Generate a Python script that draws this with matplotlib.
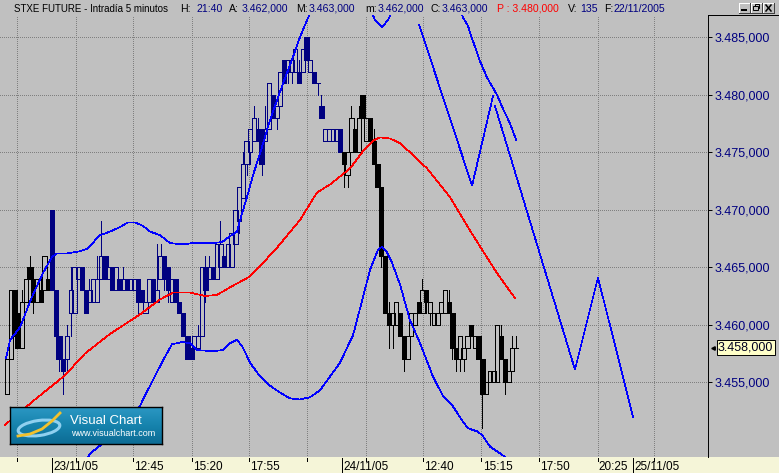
import numpy as np
import matplotlib
matplotlib.use("Agg")
import matplotlib.pyplot as plt
from matplotlib.patches import Rectangle, Ellipse
from matplotlib.colors import LinearSegmentedColormap
from matplotlib.transforms import blended_transform_factory as blend

# 10-minute candles; x is counted in 5-minute slots from the 23/11/05 open
first_bar, bar_step = -24, 2
opens = [3454, 3457, 3463, 3461, 3458, 3462, 3465, 3464, 3462, 3463, 3463, 3464,
         3470, 3463, 3459, 3457, 3457, 3461, 3461, 3464, 3465, 3463, 3462, 3462,
         3462, 3464, 3466, 3464, 3465, 3463, 3464, 3463, 3464, 3463, 3463, 3464,
         3463, 3461, 3462, 3464, 3462, 3464, 3466, 3465, 3462, 3464, 3462, 3461,
         3459, 3458, 3458, 3458, 3459, 3465, 3464, 3465, 3464, 3465, 3466, 3465,
         3465, 3467, 3469, 3471, 3474, 3475, 3476, 3477, 3477, 3476, 3477, 3480,
         3478, 3479, 3483, 3482, 3482, 3482, 3482, 3482, 3485, 3482, 3482, 3481,
         3479, 3476, 3476, 3476, 3476, 3477, 3475, 3473, 3475, 3477, 3475, 3480,
         3476, 3478, 3476, 3474, 3472, 3466, 3461, 3460, 3460, 3461, 3459, 3457,
         3459, 3460, 3462, 3461, 3463, 3461, 3460, 3460, 3461, 3461, 3462, 3461,
         3458, 3457, 3457, 3458, 3460, 3458, 3459, 3457, 3454, 3455, 3455, 3455,
         3459, 3457, 3455, 3456, 3458]
highs = [3457, 3463, 3463, 3461, 3463, 3464, 3466, 3465, 3464, 3464, 3466, 3464,
         3470, 3463, 3459, 3457, 3460, 3465, 3465, 3465, 3465, 3463, 3464, 3464,
         3466, 3469, 3466, 3466, 3465, 3465, 3464, 3465, 3464, 3464, 3464, 3464,
         3463, 3462, 3464, 3464, 3467, 3467, 3466, 3465, 3464, 3464, 3462, 3461,
         3459, 3459, 3459, 3460, 3465, 3466, 3466, 3465, 3467, 3469, 3466, 3467,
         3468, 3470, 3472, 3475, 3476, 3477, 3479, 3478, 3477, 3479, 3481, 3480,
         3479, 3482, 3483, 3483, 3483, 3484, 3483, 3484, 3485, 3483, 3482, 3481,
         3480, 3477, 3477, 3477, 3477, 3477, 3475, 3475, 3479, 3477, 3479, 3480,
         3478, 3478, 3477, 3474, 3472, 3466, 3462, 3461, 3462, 3461, 3459, 3459,
         3461, 3461, 3462, 3464, 3463, 3462, 3461, 3461, 3462, 3463, 3463, 3461,
         3458, 3459, 3458, 3459, 3460, 3459, 3459, 3457, 3455, 3456, 3456, 3460,
         3460, 3457, 3456, 3459, 3459]
lows = [3454, 3457, 3458, 3458, 3458, 3462, 3464, 3461, 3462, 3462, 3463, 3463,
        3463, 3457, 3456, 3454, 3456, 3459, 3461, 3464, 3463, 3461, 3462, 3462,
        3462, 3464, 3464, 3464, 3463, 3463, 3463, 3463, 3463, 3463, 3463, 3461,
        3462, 3461, 3462, 3462, 3462, 3464, 3463, 3462, 3462, 3462, 3461, 3459,
        3457, 3457, 3457, 3458, 3459, 3462, 3464, 3464, 3464, 3465, 3465, 3465,
        3465, 3467, 3468, 3471, 3473, 3474, 3476, 3476, 3473, 3476, 3477, 3478,
        3477, 3479, 3481, 3481, 3481, 3482, 3481, 3482, 3483, 3482, 3481, 3480,
        3478, 3476, 3476, 3476, 3476, 3475, 3472, 3472, 3475, 3475, 3475, 3478,
        3476, 3476, 3474, 3472, 3465, 3461, 3458, 3458, 3460, 3459, 3456, 3457,
        3459, 3460, 3461, 3461, 3461, 3460, 3460, 3460, 3461, 3461, 3461, 3457,
        3456, 3456, 3456, 3458, 3459, 3458, 3457, 3451, 3454, 3455, 3455, 3455,
        3457, 3454, 3455, 3456, 3458]
closes = [3457, 3463, 3459, 3458, 3462, 3464, 3464, 3462, 3464, 3462, 3466, 3463,
          3463, 3459, 3457, 3456, 3459, 3463, 3465, 3465, 3463, 3461, 3463, 3464,
          3464, 3466, 3464, 3465, 3463, 3465, 3463, 3464, 3463, 3464, 3464, 3462,
          3462, 3462, 3464, 3462, 3463, 3466, 3464, 3463, 3464, 3462, 3461, 3459,
          3457, 3457, 3459, 3459, 3465, 3463, 3465, 3464, 3467, 3467, 3465, 3467,
          3468, 3470, 3472, 3474, 3476, 3477, 3478, 3476, 3474, 3477, 3481, 3478,
          3479, 3482, 3481, 3483, 3483, 3484, 3481, 3484, 3483, 3483, 3481, 3481,
          3478, 3477, 3477, 3477, 3477, 3475, 3474, 3475, 3478, 3475, 3478, 3478,
          3478, 3476, 3474, 3472, 3466, 3461, 3460, 3461, 3462, 3459, 3457, 3459,
          3461, 3461, 3461, 3463, 3462, 3462, 3461, 3461, 3462, 3463, 3461, 3458,
          3457, 3459, 3458, 3459, 3459, 3459, 3457, 3454, 3455, 3456, 3456, 3460,
          3457, 3455, 3456, 3458, 3458]

# moving average (red)
ma_t = [-25.1, -9.1, 6.9, 17.6, 31.0, 47.0, 57.7, 64.7, 73.8, 81.8, 88.2, 96.7,
        105.8, 119.2, 132.5, 141.6, 148.6, 159.3, 166.2, 171.6, 175.3, 180.6,
        186.0, 191.3, 200.4, 212.7, 223.4, 228.8, 237.8, 247.5]
ma_p = [3451.3, 3453.5, 3455.6, 3457.5, 3459.2, 3460.9, 3462.2, 3462.8, 3462.8,
        3462.5, 3462.6, 3463.4, 3464.2, 3466.5, 3469.1, 3471.5, 3472.2, 3473.6,
        3475.1, 3476.0, 3476.3, 3476.2, 3475.8, 3475.0, 3473.6, 3471.1, 3468.2,
        3466.8, 3464.5, 3462.3]

# bands (blue), nan where the band leaves the chart
nan = float("nan")
upper_t = [-24.6, -22.4, -19.8, -17.1, -14.4, -11.8, -9.1, -4.8, -2.1, 0, 2.7, 8.0,
           15.0, 18.7, 25.7, 31.0, 36.3, 40.6, 44.4, 48.6, 52.4, 57.7, 63.1, 69.5,
           75.4, 86.1, 90.9, 95.1, 98.9, 100.5, 104.2, 107.4, 111.2, 116.5, 123.5,
           128.8, 132.5, 136.3, 139.0, nan, 170.0, 172.6, 176.4, 179.6, 182.3, nan,
           218.0, 219.7, 222.3, 224.5, 228.8, 232.5, 237.8, 241.0, 244.8, 248.0]
upper_p = [3457.1, 3458.7, 3459.2, 3459.8, 3460.9, 3462.0, 3463.0, 3464.5, 3465.3,
           3465.9, 3466.2, 3466.2, 3466.4, 3466.6, 3467.8, 3468.1, 3468.5, 3468.9,
           3468.9, 3468.6, 3468.1, 3467.8, 3467.1, 3467.0, 3467.1, 3467.1, 3467.2,
           3467.7, 3468.1, 3469.1, 3471.1, 3473.0, 3474.9, 3477.8, 3481.0, 3483.3,
           3485.0, 3486.5, 3487.5, nan, 3487.5, 3486.5, 3485.9, 3486.5, 3487.5, nan,
           3487.5, 3486.7, 3486.0, 3484.9, 3482.9, 3481.5, 3480.0, 3478.8, 3477.5,
           3476.1]
lower_t = [17.1, 20.3, 25.7, 36.3, 47.0, 48.6, 54.0, 59.3, 64.1, 69.5, 73.8, 77.5,
           86.1, 91.4, 95.1, 98.9, 102.1, 105.8, 111.2, 116.5, 121.9, 127.2, 132.5,
           137.9, 143.2, 148.6, 153.9, 160.9, 166.2, 170.0, 174.2, 176.4, 179.0,
           181.7, 186.0, 191.3, 196.7, 203.6, 209.0, 214.3, 219.1, 222.3, 227.7,
           230.4, 234.1, 240.5, 248.0]
lower_p = [3447.8, 3448.8, 3449.5, 3451.3, 3452.9, 3453.5, 3455.2, 3456.9, 3458.3,
           3458.5, 3458.4, 3457.8, 3457.7, 3457.8, 3458.4, 3458.7, 3458.0, 3456.7,
           3455.5, 3454.7, 3454.1, 3453.6, 3453.5, 3453.7, 3454.3, 3455.5, 3456.7,
           3459.1, 3462.4, 3464.8, 3466.5, 3466.8, 3466.3, 3465.4, 3463.5, 3460.4,
           3458.4, 3455.5, 3453.8, 3452.9, 3451.7, 3451.0, 3450.7, 3450.3, 3449.4,
           3448.7, 3447.7]

# projection zigzags (blue)
proj_a_t = [196.2, 224.5, 235.7]
proj_a_p = [3486.1, 3472.1, 3479.9]
proj_b_t = [236.8, 279.5, 291.8, 310.5]
proj_b_p = [3479.0, 3456.1, 3464.1, 3452.0]

grid_t = [-18.7, 12.6, 43.4, 74.6, 105.4, 136.3, 167.8, 198.4, 229.5, 260.4, 291.6, 321.8]
time_t = [43.4, 74.6, 105.4, 198.4, 229.5, 260.4, 291.6]
time_labels = ["12:45", "15:20", "17:55", "12:40", "15:15", "17:50", "20:25"]
date_t = [0, 155, 310.5]
date_labels = ["23/11/05", "24/11/05", "25/11/05"]
price_ticks = [3455, 3460, 3465, 3470, 3475, 3480, 3485]
last_price = 3458

W, H = 779, 473
GREY, NAVY, STRIP = "#C0C0C0", "#000080", "#F5F5D8"
LW = 0.7
plt.rcParams["font.family"] = ["Liberation Sans", "DejaVu Sans"]


def fmt(v):
    return f"{v:,.3f}".replace(",", " ").replace(".", ",").replace(" ", ".")


fig = plt.figure(figsize=(W / 100, H / 100), dpi=100, facecolor=GREY)
fig.add_artist(Rectangle((0, 0), 1, 16 / H, transform=fig.transFigure,
                         facecolor=STRIP, edgecolor="none", zorder=-1))

ax = fig.add_axes([0, 16 / H, 708 / W, 442 / H])
ax.set_facecolor(GREY)
ax.set_xlim(-27.8, 350.6)
ax.set_ylim(3448.5, 3486.94)
for s in ["left", "top", "bottom"]:
    ax.spines[s].set_visible(False)
ax.spines["right"].set_linewidth(LW)
ax.set_xticks([])
ax.yaxis.tick_right()
ax.set_yticks(price_ticks)
ax.set_yticklabels([fmt(v) for v in price_ticks])
ax.tick_params(axis="y", length=3, width=LW, pad=1.5, labelsize=9, labelcolor=NAVY)

dots = (0, (1, 2))
ax.hlines(price_ticks, -27.8, 350.6, colors="#808080", linestyles=dots, lw=LW,
          antialiased=False, zorder=0.5)
ax.vlines(grid_t, 3448.5, 3486.94, colors="#808080", linestyles=dots, lw=LW,
          antialiased=False, zorder=0.5)

# candles
w, CW = 2.3, 0.7
for i, (o, h, l, c) in enumerate(zip(opens, highs, lows, closes)):
    t = first_bar + bar_step * i
    col = NAVY if 0 <= t < 155 else "black"
    lo, hi = min(o, c), max(o, c)
    if h > hi:
        ax.vlines(t, hi, h, colors=col, lw=CW, antialiased=False, zorder=3)
    if l < lo:
        ax.vlines(t, l, lo, colors=col, lw=CW, antialiased=False, zorder=3)
    if o == c:
        ax.hlines(c, t - w / 2, t + w / 2, colors=col, lw=CW, antialiased=False, zorder=3)
    else:
        ax.add_patch(Rectangle((t - w / 2, lo), w, hi - lo, facecolor=col if c < o else "none",
                               edgecolor=col, lw=CW, antialiased=False, zorder=3))

IND = 0.5
ax.plot(ma_t, ma_p, color="#FF0000", lw=IND, antialiased=False, zorder=4)
ax.plot(upper_t, upper_p, color="#0000FF", lw=IND, antialiased=False, zorder=4)
ax.plot(lower_t, lower_p, color="#0000FF", lw=IND, antialiased=False, zorder=4)
ax.plot(proj_a_t, proj_a_p, color="#0000FF", lw=IND, antialiased=False, zorder=4)
ax.plot(proj_b_t, proj_b_p, color="#0000FF", lw=IND, antialiased=False, zorder=4)

# last price tag
tr_r = blend(ax.transAxes, ax.transData)
ax.text(1 + 10 / 708, last_price, fmt(last_price), transform=tr_r, ha="left", va="center",
        fontsize=9, color="#000020", clip_on=False,
        bbox=dict(boxstyle="square,pad=0.12", facecolor="#FFFFC8", edgecolor="black", lw=LW))
ax.plot([1 + 4.5 / 708], [last_price], marker="<", ms=2.5, color="black",
        transform=tr_r, clip_on=False)

# overlay in pixel coordinates for title bar, x axis, buttons
ov = fig.add_axes([0, 0, 1, 1], zorder=5)
ov.set_xlim(0, W)
ov.set_ylim(H, 0)
ov.axis("off")
ov.plot([708, 779], [15, 15], color="black", lw=LW, antialiased=False)

tr_x = blend(ax.transData, ov.transData)
ov.vlines(grid_t, 457.5, 461, colors="black", lw=LW, transform=tr_x, antialiased=False)
ov.vlines(date_t, 457.5, 473, colors="black", lw=LW, transform=tr_x, antialiased=False)
for t, s in zip(time_t + date_t, time_labels + date_labels):
    ov.text(t + 0.7, 466.5, s, transform=tr_x, ha="left", va="center", fontsize=8.5, color="black")

title = [("STXE FUTURE - Intradía 5 minutos", 14, "black"), ("H:", 180, "black"),
         ("21:40", 197, NAVY), ("A:", 228.5, "black"), ("3.462,000", 242, NAVY),
         ("M:", 296, "black"), ("3.463,000", 309, NAVY), ("m:", 365, "black"),
         ("3.462,000", 377.5, NAVY), ("C:", 431, "black"), ("3.463,000", 442, NAVY),
         ("P : 3.480,000", 497, "#FF0000"), ("V:", 568, "black"), ("135", 580, NAVY),
         ("F:", 604, "black"), ("22/11/2005", 613.5, NAVY)]
for k, (s, x, c) in enumerate(title):
    ov.text(x, 8.5, s, ha="left", va="center", fontsize=7.0 if k == 0 else 7.6, color=c)

# window buttons
for k, x in enumerate([739, 751, 763]):
    ov.add_patch(Rectangle((x, 3), 11, 10, facecolor=GREY, edgecolor="none"))
    ov.plot([x, x, x + 11], [13, 3, 3], color="white", lw=LW, antialiased=False)
    ov.plot([x, x + 11, x + 11], [13, 13, 3], color="#404040", lw=LW, antialiased=False)
    if k == 0:
        ov.plot([x + 3, x + 7], [10.5, 10.5], color="black", lw=1.4, antialiased=False)
    elif k == 1:
        ov.add_patch(Rectangle((x + 4, 4.5), 4.5, 4, fill=False, edgecolor="black", lw=LW))
        ov.add_patch(Rectangle((x + 2.5, 6.5), 4.5, 4, facecolor=GREY, edgecolor="black", lw=LW))
    else:
        ov.plot([x + 3, x + 8], [5, 11], color="black", lw=1.1)
        ov.plot([x + 3, x + 8], [11, 5], color="black", lw=1.1)

# Visual Chart logo
lg = fig.add_axes([10 / W, 1 - 444 / H, 152 / W, 37 / H], zorder=6)
grad = LinearSegmentedColormap.from_list("vc", ["#2b97c3", "#1683ad", "#0d6c95"])
lg.imshow(np.linspace(0, 1, 40)[:, None], cmap=grad, extent=(0, 152, 37, 0), aspect="auto")
lg.set_xlim(0, 152)
lg.set_ylim(37, 0)
lg.set_xticks([])
lg.set_yticks([])
for s in lg.spines.values():
    s.set_color("black")
    s.set_linewidth(1)
lg.add_patch(Ellipse((29, 21), 42, 15, angle=-8, fill=False, edgecolor="#8fd0ef", lw=2.2))
lg.plot([8, 20, 32, 42, 50], [29, 27, 22, 14, 6], color="#f3c12c", lw=2)
lg.text(60, 13.5, "Visual Chart", color="white", fontsize=9.5, va="center", ha="left")
lg.text(61, 26.5, "www.visualchart.com", color="white", fontsize=6.5, va="center", ha="left")

fig.savefig("out.png", dpi=100, facecolor=GREY)
